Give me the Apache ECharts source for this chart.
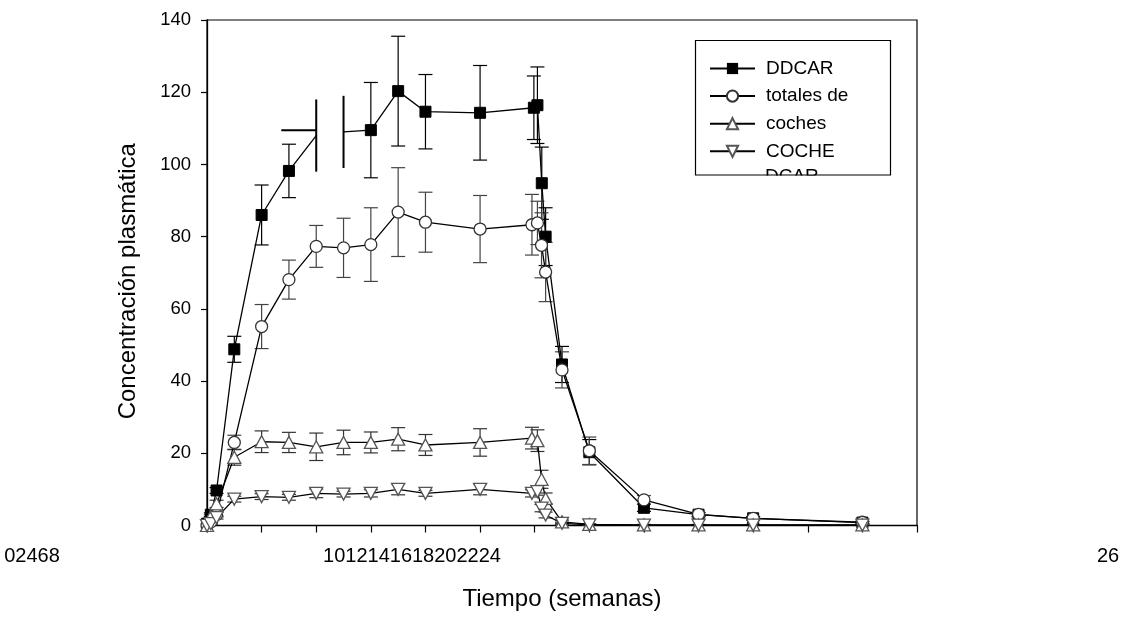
<!DOCTYPE html>
<html>
<head>
<meta charset="utf-8">
<title>Concentración plasmática</title>
<script src="https://cdn.jsdelivr.net/npm/echarts@6.0.0/dist/echarts.min.js"></script>
<style>
  html, body { margin: 0; padding: 0; background: #fff; }
  #chart { width: 1122px; height: 617px; }
</style>
</head>
<body>
<div id="chart"></div>
<script>
// x ticks every 2 weeks; in the source the labels run together in three clumps
var xTicks = [0, 2, 4, 6, 8, 10, 12, 14, 16, 18, 20, 22, 24, 26];
var xTickClumps = [[0, 2, 4, 6, 8], [10, 12, 14, 16, 18, 20, 22, 24], [26]];

// DDCAR (filled squares)
var ddcarT   = [0, 0.14, 0.35, 1, 2, 3, 4, 5, 6, 7, 8, 10, 11.97, 12.1, 12.26, 12.4, 13, 14, 16, 18, 20, 24];
var ddcarY   = [0.5, 3, 9.7, 48.8, 86, 98.2, 108, 109, 109.5, 120.3, 114.6, 114.3, 115.7, 116.4, 94.8, 80, 44.6, 20.3, 4.9, 3.0, 2.0, 0.8];
var ddcarErr = [0, 0.5, 0.8, 3.6, 8.3, 7.4, 10, 10, 13.2, 15.2, 10.3, 13.1, 8.8, 10.6, 10, 8, 5, 3.5, 1, 0.6, 0.5, 0.3];
// weeks 4 and 5 are drawn without marker, caps or joining segment
var ddcarBare = [4, 5];
// stray horizontal whisker at week 4 (length in weeks, to the left)
var ddcarSide = [[4, 1.28]];

// totales de coches (open circles)
var totT   = [0, 0.14, 0.35, 1, 2, 3, 4, 5, 6, 7, 8, 10, 11.9, 12.1, 12.25, 12.4, 13, 14, 16, 18, 20, 24];
var totY   = [0, 1, 3, 23, 55.1, 68.1, 77.3, 76.9, 77.8, 86.8, 84, 82.1, 83.3, 83.8, 77.6, 70.2, 43.1, 20.7, 7.1, 3.1, 2.0, 0.9];
var totErr = [0, 0.3, 0.6, 2, 6.1, 5.4, 5.8, 8.2, 10.2, 12.3, 8.3, 9.3, 8.4, 6, 9, 8.2, 5, 3.8, 1.2, 0.5, 0.3, 0.3];

// coches (open triangles)
var cochesT   = [0, 0.14, 0.35, 1, 2, 3, 4, 5, 6, 7, 8, 10, 11.9, 12.1, 12.25, 12.4, 13, 14, 16, 18, 20, 24];
var cochesY   = [0, 2.5, 6, 18.9, 23.2, 23, 21.8, 23, 23, 23.9, 22.3, 23, 24.2, 23.5, 12.8, 7.5, 1, 0.3, 0.2, 0.2, 0.2, 0.2];
var cochesErr = [0, 0.5, 1, 2.2, 3, 2.8, 3.8, 3.4, 2.9, 3.2, 2.9, 3.8, 3, 3, 2.5, 1.5, 0.5, 0.2, 0.1, 0.1, 0.1, 0.1];

// COCHE DCAR (open inverted triangles)
var dcarT   = [0, 0.14, 0.35, 1, 2, 3, 4, 5, 6, 7, 8, 10, 11.9, 12.1, 12.25, 12.4, 13, 14, 16, 18, 20, 24];
var dcarY   = [0, 0.5, 2.2, 7.3, 8.0, 7.8, 8.9, 8.7, 8.9, 10.0, 8.9, 10.0, 8.9, 9.4, 4.8, 2.9, 0.6, 0.2, 0.1, 0.1, 0.1, 0.1];
var dcarErr = [0, 0.2, 0.4, 0.8, 0.8, 0.8, 1.2, 0.8, 1, 1.5, 0.8, 1.5, 1, 1, 1, 0.8, 0.3, 0.1, 0.1, 0.1, 0.1, 0.1];

var legendNames = ['DDCAR', 'totales de', 'coches', 'COCHE'];
var legendOverflow = 'DCAR';

var FONT = 'Liberation Sans, Arial, sans-serif';

function lineData(t, y, bare) {
  var out = [];
  t.forEach(function (v, i) {
    var item = { value: [v, y[i]] };
    if (bare.indexOf(v) >= 0) item.symbol = 'none';
    out.push(item);
    if (bare.indexOf(v) >= 0 && bare.indexOf(t[i + 1]) >= 0) {
      out.push({ value: [(v + t[i + 1]) / 2, '-'] });
    }
  });
  return out;
}

function errorBars(name, t, y, err, color, bare, side) {
  var data = t.map(function (v, i) { return [v, y[i], err[i]]; });
  return {
    type: 'custom',
    name: name + ' err',
    silent: true,
    z: 1,
    data: data,
    renderItem: function (params, api) {
      var x = api.value(0), v = api.value(1), e = api.value(2);
      var isBare = bare.indexOf(x) >= 0;
      var children = [];
      if (e > 0) {
        var top = api.coord([x, v + e]);
        var bot = api.coord([x, v - e]);
        var st = { stroke: color, lineWidth: isBare ? 2 : 1.2 };
        children.push({ type: 'line', shape: { x1: top[0], y1: top[1], x2: bot[0], y2: bot[1] }, style: st });
        if (!isBare) {
          children.push({ type: 'line', shape: { x1: top[0] - 7, y1: top[1], x2: top[0] + 7, y2: top[1] }, style: st });
          children.push({ type: 'line', shape: { x1: bot[0] - 7, y1: bot[1], x2: bot[0] + 7, y2: bot[1] }, style: st });
        }
      }
      side.forEach(function (s) {
        if (s[0] === x) {
          var a = api.coord([x - s[1], v + 1.5]);
          var b = api.coord([x, v + 1.5]);
          children.push({ type: 'line', shape: { x1: a[0], y1: a[1], x2: b[0], y2: b[1] }, style: { stroke: color, lineWidth: 2 } });
        }
      });
      return { type: 'group', children: children };
    }
  };
}

function lineSeries(name, data, symbol, size, item, rotate) {
  return {
    type: 'line',
    name: name,
    data: data,
    symbol: symbol,
    symbolSize: size,
    symbolRotate: rotate || 0,
    showAllSymbol: true,
    connectNulls: false,
    z: 3,
    lineStyle: { color: '#000', width: 1.3 },
    itemStyle: item,
    emphasis: { disabled: true }
  };
}

var chart = echarts.init(document.getElementById('chart'));

var clumpX = [32, 412, 1108];
var tickGraphics = xTickClumps.map(function (c, i) {
  return {
    type: 'text',
    x: clumpX[i],
    y: 556,
    style: { text: c.join(''), font: '20px ' + FONT, fill: '#000', align: 'center', verticalAlign: 'middle' }
  };
});

chart.setOption({
  animation: false,
  backgroundColor: '#fff',
  grid: {
    left: 207, right: 205, top: 20, bottom: 91.5,
    show: true, borderColor: '#000', borderWidth: 1.2,
    outerBoundsMode: 'none'
  },
  legend: {
    data: legendNames,
    orient: 'vertical',
    left: 709,
    top: 59,
    padding: 0,
    itemWidth: 45,
    itemHeight: 14,
    itemGap: 8.6,
    selectedMode: false,
    textStyle: { fontSize: 19, fontFamily: FONT, color: '#000', padding: [0, 0, 0, 6] }
  },
  xAxis: {
    type: 'value',
    min: 0, max: 26, interval: 2,
    name: 'Tiempo (semanas)',
    nameLocation: 'middle',
    nameGap: 62,
    nameTextStyle: { fontSize: 24, fontFamily: FONT, color: '#000' },
    axisLine: { show: true, lineStyle: { color: '#000', width: 1.3 } },
    axisTick: { show: true, length: 7, lineStyle: { color: '#000', width: 1.2 } },
    axisLabel: { show: false },
    splitLine: { show: false }
  },
  yAxis: {
    type: 'value',
    min: 0, max: 140, interval: 20,
    name: 'Concentración plasmática',
    nameLocation: 'middle',
    nameGap: 67,
    nameTextStyle: { fontSize: 24, fontFamily: FONT, color: '#000', padding: [0, 17, 0, 0] },
    axisLine: { show: true, lineStyle: { color: '#000', width: 1.3 } },
    axisTick: { show: true, length: 6, lineStyle: { color: '#000', width: 1.2 } },
    axisLabel: { fontSize: 18.5, fontFamily: FONT, color: '#000', margin: 16 },
    splitLine: { show: false }
  },
  graphic: tickGraphics.concat([
    {
      type: 'text', x: 765, y: 177, z: 90,
      style: { text: legendOverflow, font: '19px ' + FONT, fill: '#000', verticalAlign: 'middle' }
    },
    {
      type: 'rect', z: 95, shape: { x: 740, y: 175.6, width: 110, height: 14 },
      style: { fill: '#fff' }
    },
    {
      type: 'rect', z: 100, shape: { x: 695.5, y: 40.5, width: 195, height: 134.5 },
      style: { fill: 'none', stroke: '#000', lineWidth: 1.2 }
    }
  ]),
  series: [
    errorBars('DDCAR', ddcarT, ddcarY, ddcarErr, '#000', ddcarBare, ddcarSide),
    errorBars('totales de', totT, totY, totErr, '#444', [], []),
    errorBars('coches', cochesT, cochesY, cochesErr, '#333', [], []),
    errorBars('COCHE', dcarT, dcarY, dcarErr, '#333', [], []),
    lineSeries('DDCAR', lineData(ddcarT, ddcarY, ddcarBare), 'rect', 11,
      { color: '#000', borderColor: '#000' }),
    lineSeries('totales de', lineData(totT, totY, []), 'circle', 12,
      { color: '#fff', borderColor: '#333', borderWidth: 1.3 }),
    lineSeries('coches', lineData(cochesT, cochesY, []), 'triangle', [13, 12],
      { color: '#fff', borderColor: '#555', borderWidth: 1.3 }),
    lineSeries('COCHE', lineData(dcarT, dcarY, []), 'triangle', [13, 12],
      { color: '#fff', borderColor: '#555', borderWidth: 1.3 }, 180)
  ]
});
</script>
</body>
</html>
